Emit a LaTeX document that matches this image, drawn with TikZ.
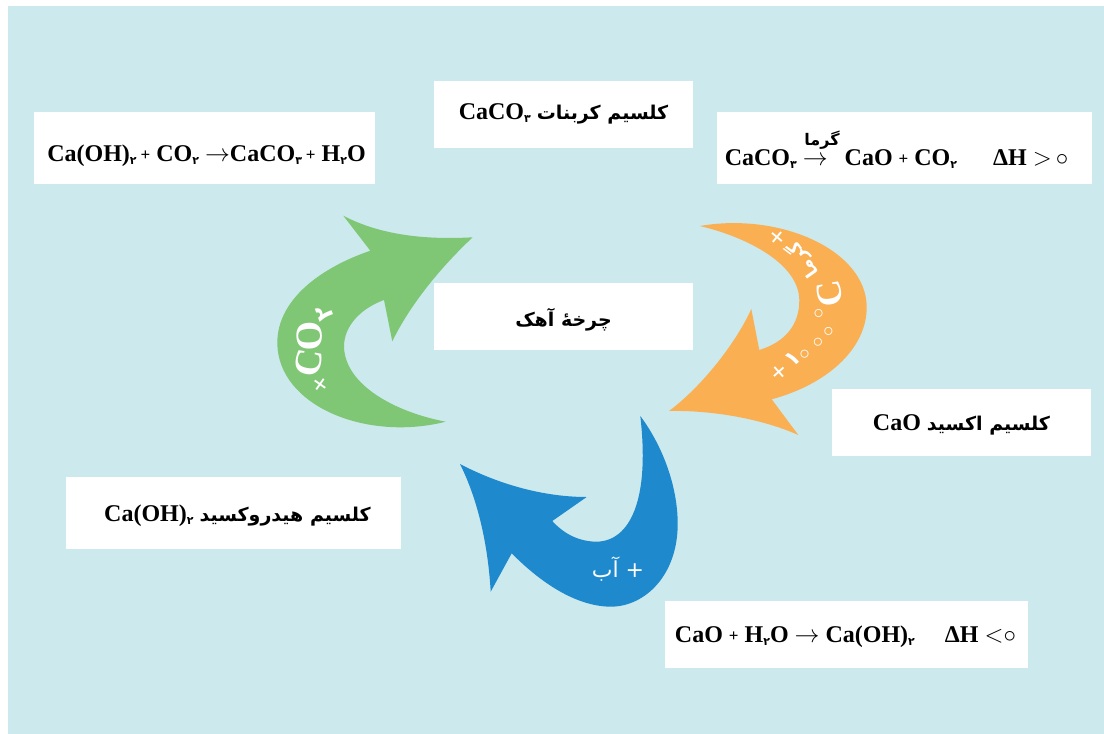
\documentclass[tikz,border=0pt]{standalone}
\usepackage{fontspec}
\setmainfont{Liberation Serif}
\newfontfamily\farsi[Script=Arabic]{DejaVu Sans}
\TeXXeTstate=1
\usetikzlibrary{positioning}
\definecolor{bgblue}{HTML}{CCE9ED}
\definecolor{limegreen}{HTML}{7FC774}
\definecolor{limeorange}{HTML}{F9AF52}
\definecolor{limeblue}{HTML}{1E8ACD}
\newcommand{\subd}[1]{\raisebox{-3pt}{\farsi\bfseries\fontsize{11}{11}\selectfont #1}}
\newcommand{\fa}[1]{{\farsi\bfseries\fontsize{19}{22}\selectfont\beginR #1\endR}}
\newcommand{\smallplus}{\raisebox{0.5pt}{\fontsize{17}{17}\selectfont +}}
\newcommand{\lowered}[2]{\raisebox{-#1pt}[0pt][0pt]{#2}}

\begin{document}
\begin{tikzpicture}[
  x=1pt, y=-1pt,
  font=\fontsize{24}{27}\selectfont\bfseries,
  box/.style={fill=white, inner sep=0pt, align=center},
  glyph/.style={text=white, inner sep=0pt, font=\fontsize{#1}{#1}\selectfont\bfseries}
]
\useasboundingbox (0,0) rectangle (1104,734);
\fill[white] (0,0) rectangle (1104,734);
\fill[bgblue] (8,6) rectangle (1104,734);

% Green arrow
\fill[limegreen] (472.7,237.3) .. controls (425,240) and (380,235) .. (343.3,215.7)
  -- (370.3,250.7) .. controls (320,268) and (277,300) .. (277.3,343.3)
  .. controls (278,405) and (365,442) .. (445.7,421.7)
  .. controls (395,412) and (345,385) .. (344,346.7)
  .. controls (344,325) and (362,308) .. (384,300)
  -- (392.3,341.3) .. controls (410,305) and (440,268) .. cycle;

% Orange arrow
\fill[limeorange] (700,226) .. controls (780,212) and (866,250) .. (866.7,306.7)
  .. controls (867,350) and (825,385) .. (771.7,399.3)
  -- (798.3,435) .. controls (765,420) and (715,410) .. (669,411)
  .. controls (700,388) and (735,345) .. (751.3,309)
  -- (759.3,350) .. controls (785,342) and (799.5,325) .. (799.3,300)
  .. controls (799,265) and (750,238) .. cycle;

% Blue arrow
\fill[limeblue] (640.3,416) .. controls (662,445) and (677.5,485) .. (677.7,523.3)
  .. controls (678,575) and (645,607) .. (610,606.7)
  .. controls (575,606) and (540,582) .. (511.7,553.3)
  -- (490.7,591.7) .. controls (488,545) and (478,500) .. (460,464)
  .. controls (500,485) and (545,497) .. (586.7,497)
  -- (552.3,521) .. controls (565,535) and (580,541.5) .. (596.7,541.7)
  .. controls (630,541) and (650,500) .. cycle;

% Labels on the green arrow
\node[glyph=28, rotate=55] (greenplus) at (321.7,385) {+};
\node[glyph=38, rotate=80] (greenC) at (308.5,363) {C};
\node[glyph=38, rotate=92] (greenO) at (310,336.5) {O};
\node[glyph=24, rotate=110] (greenTwo) at (325,313) {\farsi ۲};

% Labels on the orange arrow
\node[glyph=28, rotate=42] (orangeplus) at (780,373) {+};
\node[glyph=22, rotate=42] (orangeOne) at (793,359) {\farsi ۱};
\node[glyph=20, rotate=45] (zeroA) at (805,355) {$\circ$};
\node[glyph=20, rotate=50] (zeroB) at (818.3,342.3) {$\circ$};
\node[glyph=20, rotate=60] (zeroC) at (829,331.7) {$\circ$};
\node[glyph=20, rotate=80] (degree) at (819.3,314) {$\circ$};
\node[glyph=36, rotate=100] (orangeC) at (830,293.3) {C};
\node[glyph=18, rotate=125] (heat) at (803,260) {\farsi\beginR گرما\endR};
\node[glyph=28, rotate=140] (orangeplusB) at (778.3,236) {+};

% Label on the blue arrow
\node[glyph=22] (water) at (618,569) {\mdseries\farsi\beginR + آب\endR};

% Boxes
\node[box, minimum width=259pt, minimum height=67pt] (carbonate) at (563.5,114.5) {\lowered{4.5}{CaCO\subd{۳} \fa{کلسیم کربنات}}};
\node[box, minimum width=341pt, minimum height=72pt] (leftEq) at (204.5,148) {\lowered{13}{\hspace*{4pt}Ca(OH)\subd{۲}\,\smallplus\ CO\subd{۲} $\rightarrow$CaCO\subd{۳}\,\smallplus\ H\subd{۲}O}};
\node[box, minimum width=375pt, minimum height=72pt] (rightEq) at (904.5,148) {\lowered{17}{\hspace*{-16pt}CaCO\subd{۳} $\rightarrow$\hspace{17pt}CaO \smallplus\ CO\subd{۲}\hspace{36pt}ΔH $>$\,$\circ$}};
\node[inner sep=0pt] (rightEqHeat) at (822,140) {{\farsi\bfseries\fontsize{16}{16}\selectfont\beginR گرما\endR}};
\node[box, minimum width=259pt, minimum height=67pt] (cycle) at (563.5,316.5) {\lowered{9.5}{\fa{چرخهٔ آهک}}};
\node[box, minimum width=259pt, minimum height=67pt] (oxide) at (961.5,422.5) {\lowered{7.5}{CaO \fa{کلسیم اکسید}}};
\node[box, minimum width=335pt, minimum height=72pt] (hydroxide) at (233.5,513) {\lowered{8}{\hspace*{8pt}Ca(OH)\subd{۲} \fa{کلسیم هیدروکسید}}};
\node[box, minimum width=363pt, minimum height=67pt] (botEq) at (846.5,634.5) {\lowered{7.5}{\hspace*{-2pt}CaO \smallplus\ H\subd{۲}O $\rightarrow$ Ca(OH)\subd{۲}\hspace{30pt}ΔH $<$$\circ$}};
\end{tikzpicture}
\end{document}
